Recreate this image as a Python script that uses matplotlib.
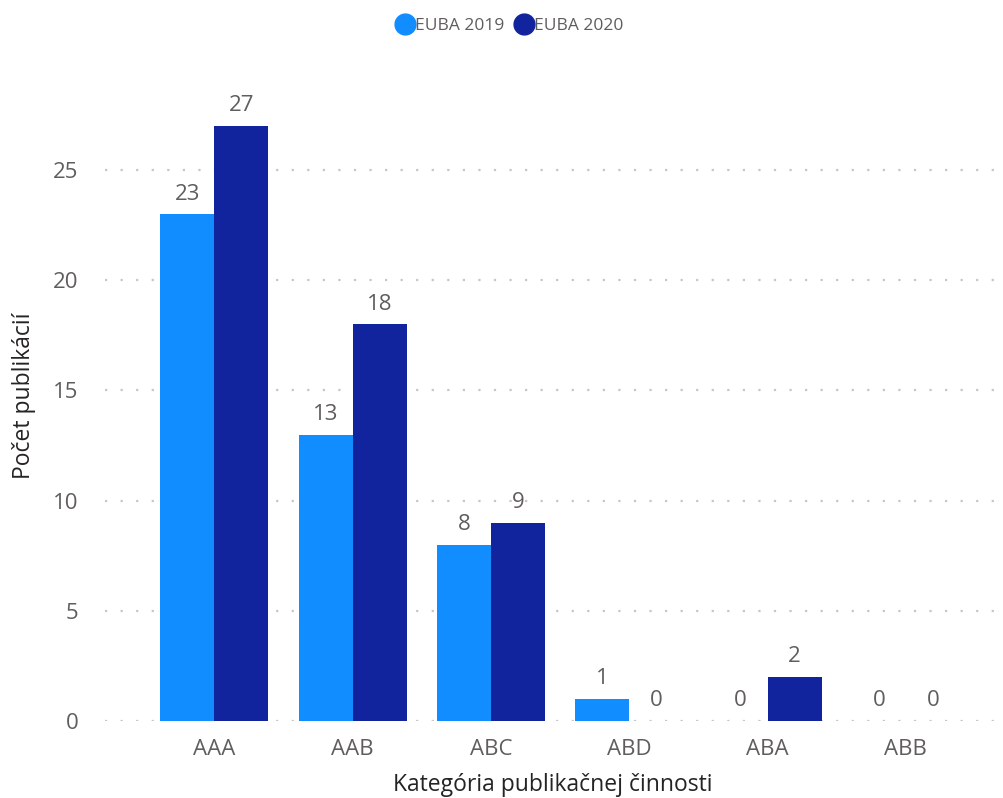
import matplotlib.pyplot as plt
from matplotlib.lines import Line2D
import numpy as np

plt.rcParams['font.family'] = ['Open Sans', 'DejaVu Sans']

kategorie = ['AAA', 'AAB', 'ABC', 'ABD', 'ABA', 'ABB']
euba_2019 = [23, 13, 8, 1, 0, 0]
euba_2020 = [27, 18, 9, 0, 2, 0]

farba_2019 = '#118DFF'
farba_2020 = '#12239E'
siva = '#605E5C'

fig = plt.figure(figsize=(10.04, 7.98), dpi=100)
ax = fig.add_axes([0.1046, 0.0965, 0.8914, 0.8145])

x = np.arange(len(kategorie))
w = 0.39
b1 = ax.bar(x - w/2, euba_2019, w, color=farba_2019, zorder=3)
b2 = ax.bar(x + w/2, euba_2020, w, color=farba_2020, zorder=3)

for bars in (b1, b2):
    for r in bars:
        h = r.get_height()
        ax.annotate(f'{int(h)}', (r.get_x() + r.get_width()/2, h),
                    xytext=(0, 7), textcoords='offset points',
                    ha='center', va='bottom', fontsize=16, color=siva)

ax.set_xlim(-0.79, 5.68)
ax.set_ylim(0, 29.5)
ax.set_yticks([0, 5, 10, 15, 20, 25])
ax.set_xticks(x)
ax.set_xticklabels(kategorie)
ax.tick_params(length=0, labelsize=16, labelcolor=siva)
ax.tick_params(axis='y', pad=19)
ax.tick_params(axis='x', pad=13)
ax.yaxis.grid(True, linestyle=(0, (1, 6)), linewidth=1.6, color='#C8C6C4', zorder=0)
for s in ax.spines.values():
    s.set_visible(False)

ax.set_ylabel('Počet publikácií', fontsize=16.5, color='#252423', labelpad=12)
ax.set_xlabel('Kategória publikačnej činnosti', fontsize=16.5, color='#252423', labelpad=9)

handles = [Line2D([], [], marker='o', linestyle='', markersize=15, color=farba_2019),
           Line2D([], [], marker='o', linestyle='', markersize=15, color=farba_2020)]
fig.legend(handles, ['EUBA 2019', 'EUBA 2020'], loc='center', bbox_to_anchor=(0.507, 0.968),
           ncol=2, frameon=False, fontsize=12.5, labelcolor=siva,
           handletextpad=0.0, columnspacing=0.5, handlelength=1.2)

fig.savefig('out.png', dpi=100)
